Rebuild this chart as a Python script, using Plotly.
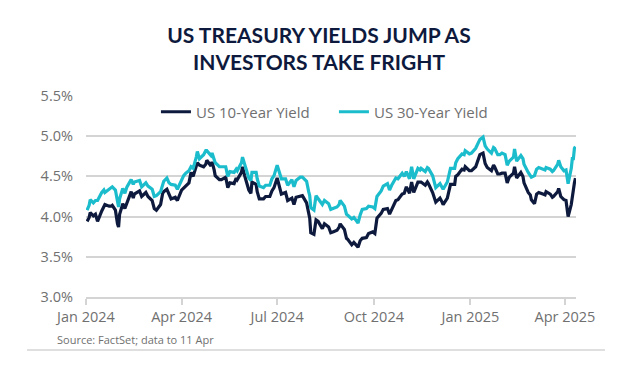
import plotly.graph_objects as go

dates = [
"2024-01-02","2024-01-04","2024-01-05","2024-01-08","2024-01-10","2024-01-12","2024-01-16","2024-01-18","2024-01-19","2024-01-23",
"2024-01-25","2024-01-26","2024-01-29","2024-01-31","2024-02-01","2024-02-02","2024-02-05","2024-02-07","2024-02-09","2024-02-13",
"2024-02-15","2024-02-16","2024-02-21","2024-02-23","2024-02-27","2024-02-29","2024-03-04","2024-03-06","2024-03-08","2024-03-12",
"2024-03-14","2024-03-15","2024-03-18","2024-03-20","2024-03-22","2024-03-26","2024-03-28","2024-04-01","2024-04-03","2024-04-05",
"2024-04-08","2024-04-10","2024-04-12","2024-04-15","2024-04-16","2024-04-18","2024-04-22","2024-04-24","2024-04-25","2024-04-29",
"2024-04-30","2024-05-02","2024-05-03","2024-05-07","2024-05-09","2024-05-13","2024-05-15","2024-05-17","2024-05-21","2024-05-23",
"2024-05-24","2024-05-28","2024-05-29","2024-05-31","2024-06-04","2024-06-06","2024-06-07","2024-06-11","2024-06-12","2024-06-14",
"2024-06-18","2024-06-20","2024-06-24","2024-06-26","2024-06-28","2024-07-01","2024-07-03","2024-07-05","2024-07-09","2024-07-11",
"2024-07-15","2024-07-17","2024-07-19","2024-07-23","2024-07-25","2024-07-29","2024-07-31","2024-08-01","2024-08-02","2024-08-05",
"2024-08-07","2024-08-09","2024-08-13","2024-08-15","2024-08-19","2024-08-21","2024-08-23","2024-08-27","2024-08-29","2024-08-30",
"2024-09-03","2024-09-05","2024-09-06","2024-09-10","2024-09-12","2024-09-16","2024-09-18","2024-09-20","2024-09-24","2024-09-26",
"2024-09-30","2024-10-02","2024-10-04","2024-10-08","2024-10-10","2024-10-14","2024-10-16","2024-10-18","2024-10-22","2024-10-24",
"2024-10-28","2024-10-30","2024-11-01","2024-11-04","2024-11-06","2024-11-08","2024-11-12","2024-11-14","2024-11-15","2024-11-19",
"2024-11-21","2024-11-22","2024-11-26","2024-11-29","2024-12-03","2024-12-05","2024-12-06","2024-12-10","2024-12-12","2024-12-13",
"2024-12-17","2024-12-18","2024-12-20","2024-12-24","2024-12-26","2024-12-27","2024-12-31","2025-01-02","2025-01-06","2025-01-08",
"2025-01-10","2025-01-13","2025-01-15","2025-01-17","2025-01-21","2025-01-23","2025-01-24","2025-01-27","2025-01-29","2025-01-31",
"2025-02-03","2025-02-05","2025-02-07","2025-02-11","2025-02-12","2025-02-14","2025-02-18","2025-02-20","2025-02-21","2025-02-25",
"2025-02-27","2025-02-28","2025-03-03","2025-03-05","2025-03-07","2025-03-11","2025-03-13","2025-03-14","2025-03-18","2025-03-20",
"2025-03-21","2025-03-25","2025-03-26","2025-03-28","2025-03-31","2025-04-02","2025-04-03","2025-04-04","2025-04-07","2025-04-08",
"2025-04-09","2025-04-10","2025-04-11",
]

us10y = [
3.94,3.99,4.05,4.01,4.03,3.94,4.07,4.14,4.15,4.13,
4.13,4.14,4.08,3.91,3.87,4.03,4.16,4.10,4.18,4.31,
4.23,4.28,4.32,4.25,4.30,4.25,4.20,4.10,4.08,4.15,
4.29,4.31,4.34,4.28,4.22,4.24,4.20,4.33,4.36,4.39,
4.42,4.55,4.50,4.63,4.67,4.64,4.62,4.65,4.70,4.63,
4.68,4.58,4.51,4.46,4.46,4.49,4.36,4.42,4.41,4.48,
4.46,4.55,4.62,4.51,4.33,4.29,4.43,4.40,4.31,4.22,
4.22,4.25,4.25,4.32,4.36,4.48,4.36,4.28,4.30,4.20,
4.23,4.15,4.24,4.25,4.26,4.17,4.03,3.98,3.80,3.78,
3.96,3.94,3.85,3.91,3.87,3.80,3.81,3.83,3.87,3.91,
3.84,3.73,3.72,3.65,3.68,3.62,3.70,3.73,3.74,3.79,
3.81,3.79,3.98,4.04,4.09,4.10,4.03,4.08,4.20,4.21,
4.28,4.29,4.37,4.29,4.43,4.30,4.43,4.43,4.43,4.39,
4.43,4.41,4.30,4.18,4.23,4.18,4.15,4.23,4.32,4.40,
4.40,4.50,4.52,4.59,4.58,4.62,4.57,4.57,4.62,4.69,
4.77,4.79,4.66,4.61,4.57,4.64,4.62,4.53,4.53,4.54,
4.54,4.42,4.49,4.54,4.62,4.48,4.55,4.50,4.42,4.30,
4.27,4.21,4.16,4.28,4.30,4.28,4.27,4.31,4.28,4.24,
4.25,4.31,4.35,4.25,4.21,4.20,4.06,4.00,4.15,4.26,
4.34,4.42,4.48,
]

us30y = [
4.08,4.14,4.21,4.17,4.20,4.20,4.30,4.33,4.30,4.34,
4.36,4.37,4.33,4.17,4.12,4.22,4.35,4.29,4.37,4.46,
4.40,4.43,4.45,4.37,4.42,4.38,4.34,4.25,4.26,4.31,
4.42,4.44,4.48,4.42,4.40,4.39,4.34,4.47,4.51,4.54,
4.57,4.62,4.60,4.74,4.81,4.72,4.77,4.82,4.82,4.76,
4.79,4.71,4.67,4.62,4.62,4.62,4.50,4.56,4.55,4.59,
4.57,4.67,4.74,4.65,4.48,4.45,4.55,4.55,4.47,4.38,
4.36,4.39,4.39,4.47,4.51,4.64,4.54,4.47,4.47,4.39,
4.46,4.37,4.45,4.49,4.49,4.44,4.31,4.26,4.11,4.08,
4.26,4.22,4.15,4.20,4.16,4.09,4.10,4.12,4.15,4.20,
4.13,4.03,4.02,3.97,3.99,3.92,4.02,4.09,4.10,4.13,
4.12,4.10,4.25,4.32,4.38,4.41,4.33,4.39,4.48,4.47,
4.54,4.50,4.56,4.47,4.62,4.47,4.60,4.58,4.60,4.56,
4.61,4.60,4.51,4.36,4.41,4.37,4.34,4.43,4.52,4.60,
4.60,4.67,4.72,4.78,4.77,4.82,4.78,4.79,4.85,4.91,
4.96,4.99,4.88,4.84,4.79,4.86,4.85,4.77,4.77,4.79,
4.77,4.64,4.69,4.74,4.84,4.69,4.76,4.72,4.65,4.55,
4.52,4.49,4.51,4.59,4.61,4.59,4.58,4.61,4.59,4.56,
4.57,4.65,4.70,4.62,4.57,4.58,4.49,4.41,4.60,4.72,
4.72,4.85,4.87,
]

series_names = ["US 10-Year Yield", "US 30-Year Yield"]
title_text = "US TREASURY YIELDS JUMP AS<br>INVESTORS TAKE FRIGHT"
source_text = "Source: FactSet; data to 11 Apr"

NAVY = "#0e1a3d"
CYAN = "#1bbccc"
GREY_TXT = "#707070"
GRID = "#d4d4d4"
FONT = "'Open Sans', Lato, sans-serif"

# the page body adds an 8px margin; figure margins compensate for it
fig = go.Figure()
fig.add_trace(go.Scatter(x=dates, y=us10y, mode="lines", name=series_names[0],
                         line=dict(color=NAVY, width=3.2)))
fig.add_trace(go.Scatter(x=dates, y=us30y, mode="lines", name=series_names[1],
                         line=dict(color=CYAN, width=3.2)))

fig.update_layout(
    width=622, height=367,
    margin=dict(l=78, r=54, t=88, b=78),
    paper_bgcolor="white", plot_bgcolor="white",
    font=dict(family=FONT, color=GREY_TXT, size=13),
    title=dict(text=title_text, x=0.5, xanchor="center", y=1 - 35/367, yanchor="top",
               font=dict(family="Lato, sans-serif", size=21, color=NAVY, weight="bold")),
    showlegend=True,
    legend=dict(orientation="h", x=0.506, xanchor="center", y=1 - 16/201, yanchor="middle",
                font=dict(size=15, color=GREY_TXT), bgcolor="rgba(0,0,0,0)",
                itemwidth=30, entrywidth=133, entrywidthmode="pixels"),
    xaxis=dict(type="date", range=["2024-01-01", "2025-04-11 12:00"],
               tick0="2024-01-01", dtick="M3", tickformat="%b %Y",
               showgrid=False, showline=True, linecolor=GRID, linewidth=1.5,
               ticks="outside", ticklen=6, tickcolor=GRID, tickwidth=1.5,
               tickfont=dict(size=14.5, color=GREY_TXT), zeroline=False),
    yaxis=dict(range=[3.0, 5.5], dtick=0.5, tickformat=".1f", ticksuffix="%",
               showgrid=True, gridcolor=GRID, gridwidth=1.5, zeroline=False,
               showline=False, ticks="", ticklabelstandoff=12,
               tickfont=dict(size=14.5, color=GREY_TXT)),
    annotations=[dict(text=source_text, xref="paper", yref="paper",
                      x=-31/490, y=-42/201, xanchor="left", yanchor="middle",
                      showarrow=False, font=dict(size=11, color=GREY_TXT))],
    shapes=[dict(type="line", xref="paper", yref="paper",
                 x0=-59/490, x1=519/490, y0=-53/201, y1=-53/201,
                 line=dict(color=GRID, width=1.5))],
)

fig.write_html("out.html")
